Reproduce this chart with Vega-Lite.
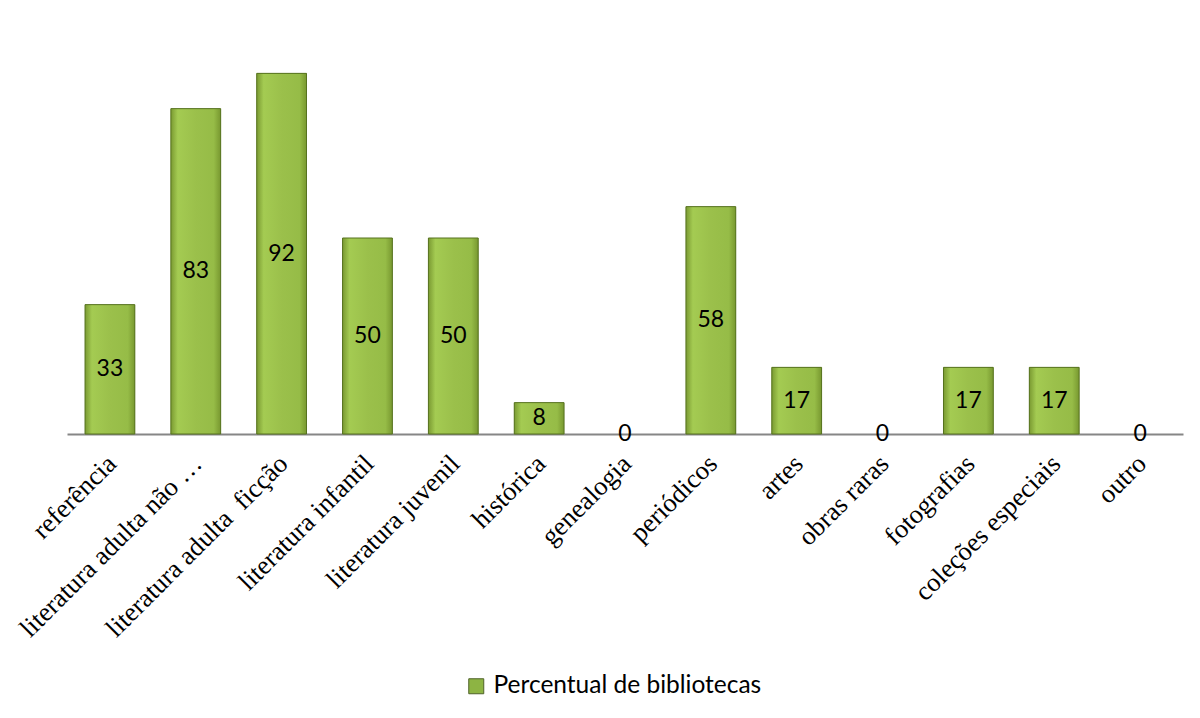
{
  "$schema": "https://vega.github.io/schema/vega-lite/v6.json",
  "width": 1116,
  "height": 392,
  "autosize": {"type": "none"},
  "padding": {"left": 67, "top": 42, "right": 17, "bottom": 284},
  "background": "white",
  "config": {"view": {"stroke": null}},
  "data": {
    "values": [
      {"categoria": "referência", "valor": 33},
      {"categoria": "literatura adulta não …", "valor": 83},
      {"categoria": "literatura adulta\u00a0 ficção", "valor": 92},
      {"categoria": "literatura infantil", "valor": 50},
      {"categoria": "literatura juvenil", "valor": 50},
      {"categoria": "histórica", "valor": 8},
      {"categoria": "genealogia", "valor": 0},
      {"categoria": "periódicos", "valor": 58},
      {"categoria": "artes", "valor": 17},
      {"categoria": "obras raras", "valor": 0},
      {"categoria": "fotografias", "valor": 17},
      {"categoria": "coleções especiais", "valor": 17},
      {"categoria": "outro", "valor": 0}
    ]
  },
  "encoding": {
    "x": {
      "field": "categoria",
      "type": "nominal",
      "sort": null,
      "scale": {
        "domain": ["referência", "literatura adulta não …", "literatura adulta\u00a0 ficção", "literatura infantil", "literatura juvenil", "histórica", "genealogia", "periódicos", "artes", "obras raras", "fotografias", "coleções especiais", "outro"],
        "paddingInner": 0.42,
        "paddingOuter": 0.21
      },
      "axis": {
        "title": null,
        "labelAngle": -45,
        "labelFont": "Liberation Serif",
        "labelFontSize": 26.5,
        "labelColor": "#000000",
        "labelPadding": 16,
        "labelOffset": -7,
        "ticks": false,
        "domainColor": "#868686",
        "domainWidth": 2,
        "labelLimit": 500
      }
    }
  },
  "layer": [
    {
      "transform": [{"filter": "datum.valor > 0"}],
      "mark": {"type": "bar"},
      "encoding": {
        "y": {"field": "valor", "type": "quantitative", "scale": {"domain": [0, 100]}, "axis": null},
        "color": {
          "datum": "Percentual de bibliotecas",
          "type": "nominal",
          "scale": {"range": ["#8db443"]},
          "legend": {
            "title": null,
            "orient": "none",
            "legendX": 397,
            "legendY": 632,
            "symbolType": "square",
            "symbolSize": 225,
            "symbolStrokeColor": "#4f6228",
            "symbolStrokeWidth": 1,
            "labelFont": "Lato",
            "labelFontSize": 24.5,
            "labelColor": "#000000",
            "labelLimit": 500,
            "labelOffset": 5
          }
        }
      }
    },
    {
      "transform": [{"filter": "datum.valor > 0"}],
      "mark": {
        "type": "bar",
        "stroke": "#56721f",
        "strokeWidth": 1,
        "fill": {
          "gradient": "linear",
          "x1": 0, "y1": 0, "x2": 1, "y2": 0,
          "stops": [
            {"offset": 0, "color": "#7a9a32"},
            {"offset": 0.14, "color": "#a4cb52"},
            {"offset": 0.5, "color": "#9bc04b"},
            {"offset": 0.86, "color": "#96bc47"},
            {"offset": 1, "color": "#789830"}
          ]
        }
      },
      "encoding": {
        "y": {"field": "valor", "type": "quantitative", "scale": {"domain": [0, 100]}, "axis": null}
      }
    },
    {
      "mark": {"type": "text", "font": "Lato", "fontSize": 23, "color": "#000000", "baseline": "middle", "align": "center"},
      "encoding": {
        "y": {"field": "valor", "type": "quantitative", "scale": {"domain": [0, 200]}, "axis": null},
        "text": {"field": "valor", "type": "quantitative"}
      }
    }
  ],
  "resolve": {"scale": {"y": "independent"}}
}
